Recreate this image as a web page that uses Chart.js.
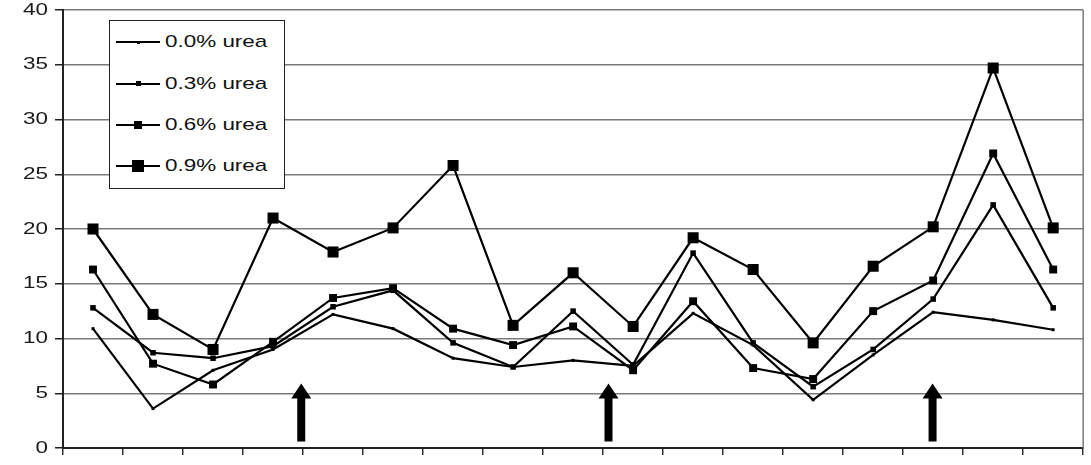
<!DOCTYPE html>
<html><head><meta charset="utf-8">
<script src="https://cdn.jsdelivr.net/npm/chart.js@4.4.1/dist/chart.umd.min.js"></script>
<style>
html,body{margin:0;padding:0;background:#fff;}
#wrap{position:relative;width:1091px;height:465px;}
canvas{display:block;}
#legend{position:absolute;left:109px;top:20px;width:176px;height:169px;border:1.5px solid #222;background:#fff;box-sizing:border-box;font-family:"Liberation Sans",Arial,sans-serif;font-size:17px;color:#111;}
.row{position:absolute;left:0;width:100%;height:0;}
.ln{position:absolute;left:6px;width:44px;height:2px;background:#000;top:-1px;}
.mk{position:absolute;background:#000;}
.tx{position:absolute;left:55px;top:-10px;line-height:20px;white-space:nowrap;transform:scaleX(1.32);transform-origin:0 50%;}
</style></head>
<body>
<div id="wrap"><canvas id="c" width="1091" height="465"></canvas><div id="legend"></div></div>
<script>
// ---- data ----
const categories = ['1','2','3','4','5','6','7','8','9','10','11','12','13','14','15','16','17'];
const seriesNames = ['0.0% urea','0.3% urea','0.6% urea','0.9% urea'];
const urea00 = [10.9, 3.6, 7.1, 9.0, 12.2, 10.9, 8.2, 7.4, 8.0, 7.5, 12.3, 9.4, 4.4, 8.5, 12.4, 11.7, 10.8];
const urea03 = [12.8, 8.7, 8.2, 9.3, 12.9, 14.4, 9.6, 7.4, 12.5, 7.6, 17.8, 9.6, 5.6, 9.0, 13.6, 22.2, 12.8];
const urea06 = [16.3, 7.7, 5.8, 9.7, 13.7, 14.6, 10.9, 9.4, 11.1, 7.1, 13.4, 7.3, 6.3, 12.5, 15.3, 26.9, 16.3];
const urea09 = [20.0, 12.2, 9.0, 21.0, 17.9, 20.1, 25.8, 11.2, 16.0, 11.1, 19.2, 16.3, 9.6, 16.6, 20.2, 34.7, 20.1];
const yTickValues = [0, 5, 10, 15, 20, 25, 30, 35, 40];
const arrowPositions = [3.47, 8.59, 13.99]; // category index positions of the arrows

// ---- styles ----
const pointRadii = [2.1, 3.9, 5.6, 7.8];
const legendMarkerSizes = [3, 5, 8, 12];
const FONT = '"Liberation Sans", Arial, sans-serif';
const TEXT_STRETCH = 1.32;

const allSeries = [urea00, urea03, urea06, urea09];
const datasets = allSeries.map((d, i) => ({
  label: seriesNames[i],
  data: d,
  borderColor: '#000',
  backgroundColor: '#000',
  borderWidth: 2.2,
  pointStyle: 'rect',
  pointRadius: pointRadii[i],
  pointBorderWidth: 0,
  pointBackgroundColor: '#000',
  tension: 0,
  clip: false
}));

// HTML legend
const leg = document.getElementById('legend');
const rowY = [21, 62.5, 103.5, 145];
seriesNames.forEach((n, i) => {
  const r = document.createElement('div');
  r.className = 'row'; r.style.top = rowY[i] + 'px';
  const ln = document.createElement('div'); ln.className = 'ln'; r.appendChild(ln);
  const mk = document.createElement('div'); mk.className = 'mk';
  const s = legendMarkerSizes[i];
  mk.style.width = s + 'px'; mk.style.height = s + 'px';
  mk.style.left = (28 - s / 2) + 'px'; mk.style.top = (-s / 2) + 'px';
  r.appendChild(mk);
  const tx = document.createElement('div'); tx.className = 'tx'; tx.textContent = n; r.appendChild(tx);
  leg.appendChild(r);
});

const decor = {
  id: 'decor',
  beforeDraw(chart) {
    const ys = chart.scales.y;
    if (!ys._stretched) {
      const orig = ys.drawLabels;
      ys.drawLabels = function (area) {
        const ctx = this.ctx;
        const px = this.right - this.options.grid.tickLength - this.options.ticks.padding;
        ctx.save();
        ctx.translate(px, 0); ctx.scale(TEXT_STRETCH, 1); ctx.translate(-px, 0);
        orig.call(this, area);
        ctx.restore();
      };
      ys._stretched = true;
    }
  },
  beforeDatasetsDraw(chart) {
    const { ctx, chartArea: a } = chart;
    ctx.save();
    ctx.strokeStyle = '#7a7a7a';
    ctx.lineWidth = 1.5;
    ctx.beginPath();
    ctx.moveTo(a.right, a.top); ctx.lineTo(a.right, a.bottom);
    ctx.stroke();
    ctx.restore();
  },
  afterDatasetsDraw(chart) {
    const { ctx } = chart;
    const xs = chart.scales.x, ys = chart.scales.y;
    ctx.save();
    ctx.fillStyle = '#000';
    arrowPositions.forEach(p => {
      const x = xs.getPixelForValue(p);
      const tip = ys.getPixelForValue(5.9);
      const base = ys.getPixelForValue(0.6);
      const hh = 15, hw = 10, sw = 4;
      ctx.beginPath();
      ctx.moveTo(x, tip);
      ctx.lineTo(x + hw, tip + hh);
      ctx.lineTo(x + sw, tip + hh);
      ctx.lineTo(x + sw, base);
      ctx.lineTo(x - sw, base);
      ctx.lineTo(x - sw, tip + hh);
      ctx.lineTo(x - hw, tip + hh);
      ctx.closePath();
      ctx.fill();
    });
    ctx.restore();
  }
};

new Chart(document.getElementById('c'), {
  type: 'line',
  data: { labels: categories, datasets },
  options: {
    responsive: false,
    animation: false,
    events: [],
    layout: { padding: { left: 0, top: 10, right: 5, bottom: 0 } },
    plugins: { legend: { display: false }, tooltip: { enabled: false } },
    scales: {
      x: {
        type: 'category',
        offset: true,
        grid: { offset: true, drawOnChartArea: false, drawTicks: true, tickLength: 7, color: '#333', lineWidth: 1.5 },
        border: { display: true, color: '#222', width: 2 },
        ticks: { callback: () => '', font: { size: 1 } },
        afterFit(s) { s.height = 17; s.paddingLeft = 0; s.paddingRight = 0; }
      },
      y: {
        min: 0, max: 40,
        afterBuildTicks(s) { s.ticks = yTickValues.map(v => ({ value: v })); },
        grid: { color: '#7a7a7a', lineWidth: 1.5, drawTicks: true, tickLength: 8, tickColor: '#222' },
        border: { display: true, color: '#222', width: 2 },
        ticks: { color: '#1a1a1a', padding: 7, font: { family: FONT, size: 17 } },
        afterFit(s) { s.width = 63; s.paddingTop = 0; s.paddingBottom = 0; }
      }
    }
  },
  plugins: [decor]
});
</script>
</body></html>
